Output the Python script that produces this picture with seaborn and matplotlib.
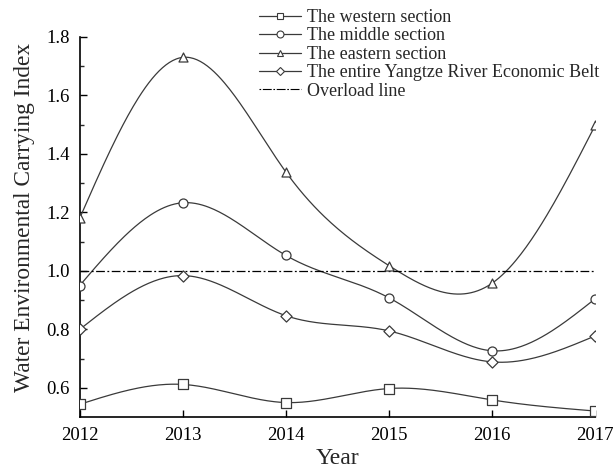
import numpy as np
import pandas as pd
import matplotlib
matplotlib.use('Agg')
import matplotlib.pyplot as plt
from matplotlib.lines import Line2D
import seaborn as sns

# Data
years = [2012, 2013, 2014, 2015, 2016, 2017]
western = [0.544, 0.612, 0.550, 0.598, 0.559, 0.521]
middle = [0.950, 1.233, 1.053, 0.908, 0.727, 0.905]
eastern = [1.180, 1.730, 1.338, 1.018, 0.958, 1.498]
entire = [0.800, 0.984, 0.847, 0.795, 0.689, 0.778]
overload = 1.0

series_names = ['The western section', 'The middle section',
                'The eastern section', 'The entire Yangtze River Economic Belt']
series_values = [western, middle, eastern, entire]
series_markers = ['s', 'o', '^', 'D']


def spline_curve(x, y, n=300):
    # natural cubic spline through the points, used only to draw the smooth line
    x = np.asarray(x, float)
    y = np.asarray(y, float)
    k = len(x)
    h = np.diff(x)
    A = np.zeros((k, k))
    b = np.zeros(k)
    A[0, 0] = A[-1, -1] = 1
    for i in range(1, k - 1):
        A[i, i - 1] = h[i - 1]
        A[i, i] = 2 * (h[i - 1] + h[i])
        A[i, i + 1] = h[i]
        b[i] = 6 * ((y[i + 1] - y[i]) / h[i] - (y[i] - y[i - 1]) / h[i - 1])
    M = np.linalg.solve(A, b)
    xs = np.linspace(x[0], x[-1], n)
    idx = np.clip(np.searchsorted(x, xs) - 1, 0, k - 2)
    x0, x1 = x[idx], x[idx + 1]
    hh = x1 - x0
    ys = (M[idx] * (x1 - xs) ** 3 / (6 * hh) + M[idx + 1] * (xs - x0) ** 3 / (6 * hh)
          + (y[idx] / hh - M[idx] * hh / 6) * (x1 - xs)
          + (y[idx + 1] / hh - M[idx + 1] * hh / 6) * (xs - x0))
    return xs, ys


sns.set_style('ticks')
plt.rcParams['font.family'] = ['Liberation Serif', 'DejaVu Serif']

fig = plt.figure(figsize=(6.13, 4.73), dpi=100)
ax = fig.add_axes([0.130, 0.118, 0.841, 0.804])

line_color = '#3a3a3a'
handles = []
for name, vals, mk in zip(series_names, series_values, series_markers):
    xs, ys = spline_curve(years, vals)
    ax.plot(xs, ys, color=line_color, lw=0.9, zorder=2)
    df = pd.DataFrame({'year': years, 'value': vals})
    msize = 42 if mk != 'D' else 32
    sns.scatterplot(data=df, x='year', y='value', marker=mk, s=msize,
                    facecolor='white', edgecolor=line_color, linewidth=0.9,
                    ax=ax, zorder=3, legend=False)
    handles.append(Line2D([], [], color=line_color, lw=0.9, marker=mk,
                          markersize=5 if mk != 'D' else 4.5,
                          markerfacecolor='white', markeredgecolor=line_color,
                          markeredgewidth=0.8))

dashdot = (0, (7, 2, 1.5, 2))
ax.axhline(overload, color='black', lw=0.9, ls=dashdot, zorder=2)
handles.append(Line2D([], [], color='black', lw=0.8, ls=(0, (1.5, 1.5, 8, 1.5))))

ax.set_xlim(2012, 2017)
ax.set_ylim(0.5, 1.8)
ax.set_xticks(years)
ax.set_xticklabels([str(y) for y in years])
ax.set_yticks([0.6, 0.8, 1.0, 1.2, 1.4, 1.6, 1.8])
ax.set_yticks([0.7, 0.9, 1.1, 1.3, 1.5, 1.7], minor=True)
ax.tick_params(axis='both', which='major', direction='in', length=5, width=1.0,
               labelsize=13.5, colors='black', pad=7)
ax.tick_params(axis='y', which='minor', direction='in', length=3, width=1.0)
sns.despine(ax=ax)
for sp in ['left', 'bottom']:
    ax.spines[sp].set_linewidth(1.2)
    ax.spines[sp].set_color('black')

ax.set_xlabel('Year', fontsize=17, labelpad=3)
ax.set_ylabel('Water Environmental Carrying Index', fontsize=16.8, labelpad=8)
ax.yaxis.label.set_y(0.524)

fig.legend(handles, series_names + ['Overload line'], loc='upper left',
           bbox_to_anchor=(0.405, 1.004), frameon=False, fontsize=13,
           handlelength=2.3, handletextpad=0.35, labelspacing=0.08,
           borderpad=0.1)

fig.savefig('out.png', dpi=100)
